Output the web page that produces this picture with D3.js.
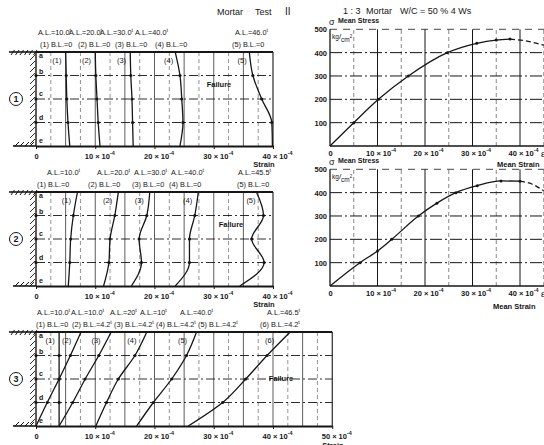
<!DOCTYPE html>
<html>
<head>
<meta charset="utf-8">
<script src="https://cdn.jsdelivr.net/npm/d3@7"></script>
<style>
  body { margin: 0; background: #fff; }
  text { font-family: "Liberation Sans", Arial, sans-serif; fill: #161616; }
</style>
</head>
<body>
<svg id="chart" width="544" height="445"></svg>
<script>
// gauge rows along the specimen height
var rows = ["a", "b", "c", "d", "e"];
var strainTicks40 = [0, 10, 20, 30, 40];
var strainTicks50 = [0, 10, 20, 30, 40, 50];
var stressTicks = [100, 200, 300, 400, 500];

// test 1 : strain (x10^-4) at rows a..e for each load step
var test1Strain = [
  [5.0, 5.1, 5.2, 5.4, 5.7],
  [10.0, 10.1, 10.3, 10.5, 10.8],
  [15.9, 16.0, 16.2, 16.3, 16.4],
  [23.5, 24.3, 24.6, 24.8, 24.3],
  [36.0, 36.6, 38.1, 39.8, 39.9]
];
var test1AL = ["A.L.=10.0^t", "A.L.=20.0^t", "A.L.=30.0^t", "A.L.=40.0^t", "A.L.=46.0^t"];
var test1BL = ["(1) B.L.=0", "(2) B.L.=0", "(3) B.L.=0", "(4) B.L.=0", "(5) B.L.=0"];

// test 2
var test2Strain = [
  [7.0, 6.3, 5.85, 5.7, 5.45],
  [13.9, 13.3, 12.5, 12.3, 11.4],
  [19.2, 18.7, 17.4, 17.8, 16.1],
  [27.4, 26.8, 25.9, 25.9, 23.5],
  [37.2, 38.4, 36.4, 38.5, 34.4]
];
var test2AL = ["A.L.=10.0^t", "A.L.=20.0^t", "A.L.=30.0^t", "A.L.=40.0^t", "A.L.=45.5^t"];
var test2BL = ["(1) B.L.=0", "(2) B.L.=0", "(3) B.L.=0", "(4) B.L.=0", "(5) B.L.=0"];

// test 3 (bending load added)
var test3Strain = [
  [3.9, 3.9, 3.9, 3.9, 3.9],
  [7.6, 5.8, 3.9, 1.9, 0],
  [12.7, 10.6, 8.3, 6.2, 3.9],
  [18.7, 16.7, 13.9, 11.9, 10.1],
  [27.1, 25.4, 22.9, 19.8, 17.0],
  [42.9, 39.0, 35.4, 31.5, 25.7]
];
var test3AL = ["A.L.=10.0^t", "A.L.=10.0^t", "A.L.=20^t", "A.L.=10^t", "A.L.=40.0^t", "A.L.=46.5^t"];
var test3BL = ["(1) B.L.=0", "(2) B.L.=4.2^t", "(3) B.L.=4.2^t", "(4) B.L.=4.2^t", "(5) B.L.=4.2^t", "(6) B.L.=4.2^t"];

// mean stress - mean strain, upper chart
var mean1Strain = [0, 5, 10.2, 16.5, 24.7, 30.9, 35, 37.9];
var mean1Stress = [0, 100, 200, 300, 400, 440, 454, 458];
var mean1StrainAfter = [37.9, 41, 45];
var mean1StressAfter = [458, 451, 432];

// mean stress - mean strain, lower chart
var mean2Strain = [0, 6.3, 10, 13, 18.6, 22.5, 26.5, 31, 36, 40];
var mean2Stress = [0, 100, 150, 200, 300, 355, 400, 430, 450, 449];
var mean2StrainAfter = [40, 42.5, 45];
var mean2StressAfter = [449, 437, 408];

var svg = d3.select("#chart");
var ink = "#161616";

// text with an optional superscript part after "^"
function rich(sel, str, size) {
  var parts = str.split("^");
  sel.text(null).attr("font-size", size);
  sel.append("tspan").text(parts[0]);
  if (parts[1]) {
    sel.append("tspan").attr("dy", -size * 0.45).attr("font-size", size * 0.72).text(parts[1]);
  }
}

function tickText(v) { return v === 0 ? "0" : v + " \u00d7 10^-4"; }

function drawPanel(p) {
  var g = svg.append("g");
  var x = d3.scaleLinear().domain([0, p.max]).range([36, 36 + p.max * 5.925]);
  var y = d3.scalePoint().domain(rows).range([p.top, p.top + 94]);
  var x0 = x(0), x1 = x(p.max), yt = y("a"), yb = y("e");

  // vertical grid
  var minor = d3.range(2.5, p.max, 2.5);
  g.selectAll(".vg").data(minor).enter().append("line")
    .attr("x1", d => x(d)).attr("x2", d => x(d))
    .attr("y1", yt).attr("y2", yb)
    .attr("stroke", d => d % 5 === 0 ? "#333" : "#666")
    .attr("stroke-width", d => d % 5 === 0 ? 0.8 : 0.7)
    .attr("stroke-dasharray", d => d % 5 === 0 ? null : "4,3");

  // horizontal gauge lines b c d
  g.selectAll(".hg").data(["b", "c", "d"]).enter().append("line")
    .attr("x1", x0).attr("x2", x1).attr("y1", d => y(d)).attr("y2", d => y(d))
    .attr("stroke", ink).attr("stroke-width", 0.9).attr("stroke-dasharray", "9,3,2,3");

  // frame
  g.append("line").attr("x1", x0).attr("x2", x1).attr("y1", yt).attr("y2", yt)
    .attr("stroke", ink).attr("stroke-width", 1.8);
  g.append("line").attr("x1", x1).attr("x2", x1).attr("y1", yt).attr("y2", yb)
    .attr("stroke", ink).attr("stroke-width", 1.1);
  g.append("line").attr("x1", x0).attr("x2", x0).attr("y1", yt).attr("y2", yb)
    .attr("stroke", ink).attr("stroke-width", 1.4);

  // bottom axis
  var ax = g.append("g").attr("transform", "translate(0," + yb + ")")
    .call(d3.axisBottom(x).tickValues(p.ticks).tickSize(3).tickSizeOuter(0));
  ax.select(".domain").attr("stroke", ink).attr("stroke-width", 1.8);
  ax.selectAll(".tick line").attr("stroke", ink);
  ax.selectAll(".tick text").attr("fill", ink).attr("font-weight", "bold")
    .attr("font-family", "'Liberation Sans', Arial, sans-serif")
    .attr("dx", d => d === 0 ? 0 : 4).attr("dy", "0.9em")
    .each(function (d) { rich(d3.select(this), tickText(d), 7.5); });
  g.append("text").attr("x", p.strainX).attr("y", yb + p.strainDy).attr("text-anchor", "middle")
    .attr("font-weight", "bold").attr("font-size", 7.5).text("Strain");

  // wall hatching
  var hatch = d3.range(yt + 4, yb, 6);
  g.selectAll(".ht").data(hatch).enter().append("line")
    .attr("x1", 30).attr("x2", 35).attr("y1", d => d + 4).attr("y2", d => d - 1)
    .attr("stroke", ink).attr("stroke-width", 0.9);
  g.append("line").attr("x1", 9).attr("x2", x0).attr("y1", yt).attr("y2", yt)
    .attr("stroke", ink).attr("stroke-width", 1.6);
  g.selectAll(".htop").data(d3.range(11, 34, 4.5)).enter().append("line")
    .attr("x1", d => d).attr("x2", d => d + 3.5).attr("y1", yt + 3).attr("y2", yt - 2)
    .attr("stroke", ink).attr("stroke-width", 1);
  g.append("line").attr("x1", 13).attr("x2", x0).attr("y1", yb).attr("y2", yb)
    .attr("stroke", ink).attr("stroke-width", 1.6);
  g.selectAll(".hbot").data(d3.range(15, 34, 5)).enter().append("line")
    .attr("x1", d => d).attr("x2", d => d + 4).attr("y1", yb).attr("y2", yb - 4)
    .attr("stroke", ink).attr("stroke-width", 1);

  // row letters
  var rowDy = { a: 6, b: -2, c: -3, d: -3, e: -3 };
  g.selectAll(".rl").data(rows).enter().append("text")
    .attr("x", 39).attr("y", d => y(d) + rowDy[d]).attr("font-size", 7)
    .attr("font-weight", "bold").text(d => d);
  g.selectAll(".ad").data(["b", "c", "d"]).enter().append("circle")
    .attr("cx", x0).attr("cy", d => y(d)).attr("r", 1.6).attr("fill", ink);

  // panel number
  g.append("circle").attr("cx", 16).attr("cy", y("c")).attr("r", 6.5)
    .attr("fill", "none").attr("stroke", ink).attr("stroke-width", 1);
  g.append("text").attr("x", 16).attr("y", y("c") + 3.3).attr("text-anchor", "middle")
    .attr("font-size", 9).attr("font-weight", "bold").text(p.num);

  // strain distribution curves
  var line = d3.line().x(d => x(d[0])).y(d => y(d[1])).curve(d3.curveMonotoneY);
  p.curves.forEach(function (c, i) {
    var pts = c.map((v, j) => [v, rows[j]]);
    g.append("path").attr("d", line(pts)).attr("fill", "none")
      .attr("stroke", ink).attr("stroke-width", 1.3);
    g.selectAll(".pd" + i).data(pts.slice(1, 4)).enter().append("circle")
      .attr("cx", d => x(d[0])).attr("cy", d => y(d[1])).attr("r", 1.6).attr("fill", ink);
    g.append("text").attr("x", x((c[0] + c[1]) / 2) - 9).attr("y", yt + 11)
      .attr("text-anchor", "middle").attr("font-size", 7.5).text("(" + (i + 1) + ")");
  });

  // load labels
  p.al.forEach(function (t, i) {
    rich(g.append("text").attr("x", p.alX[i]).attr("y", yt - 17), t, 7.3);
  });
  p.bl.forEach(function (t, i) {
    rich(g.append("text").attr("x", p.blX[i]).attr("y", yt - 5), t, 7.3);
  });

  g.append("text").attr("x", p.failX).attr("y", p.failY).attr("text-anchor", "middle")
    .attr("font-size", 7.5).attr("font-weight", "bold").text("Failure");
}

drawPanel({ top: 52, max: 40, ticks: strainTicks40, curves: test1Strain, num: "1",
  al: test1AL, alX: [38, 69, 100, 135, 235], bl: test1BL, blX: [40, 78, 115, 155, 232],
  failX: 219, failY: 87, strainX: 264, strainDy: 20.5 });
drawPanel({ top: 192, max: 40, ticks: strainTicks40, curves: test2Strain, num: "2",
  al: test2AL, alX: [47, 97, 134, 171, 238], bl: test2BL, blX: [37, 88, 132, 169, 237],
  failX: 231, failY: 227, strainX: 264, strainDy: 20.5 });
drawPanel({ top: 332, max: 50, ticks: strainTicks50, curves: test3Strain, num: "3",
  al: test3AL, alX: [37, 71, 110, 140, 180, 267], bl: test3BL, blX: [36, 72, 114, 156, 198, 260],
  failX: 281, failY: 381, strainX: 333, strainDy: 22 });

// mean stress charts
function drawMean(m) {
  var g = svg.append("g");
  var x = d3.scaleLinear().domain([0, 40]).range([330, 520]);
  var y = d3.scaleLinear().domain([0, 500]).range([m.base, m.base - 116.7]);

  g.selectAll(".vg").data(d3.range(5, 46, 5)).enter().append("line")
    .attr("x1", d => x(d)).attr("x2", d => x(d)).attr("y1", y(0)).attr("y2", y(500))
    .attr("stroke", d => d % 10 === 0 ? ink : "#555")
    .attr("stroke-width", d => d % 10 === 0 ? 1 : 0.7)
    .attr("stroke-dasharray", d => d % 10 === 0 ? null : "4,3");
  g.selectAll(".hg").data(stressTicks).enter().append("line")
    .attr("x1", x(0)).attr("x2", 544).attr("y1", d => y(d)).attr("y2", d => y(d))
    .attr("stroke", ink).attr("stroke-width", d => d === 500 ? 0.8 : 1)
    .attr("stroke-dasharray", d => d === 500 ? "7,6" : "12,3,2,3");

  var ax = g.append("g").attr("transform", "translate(0," + y(0) + ")")
    .call(d3.axisBottom(x).tickValues(strainTicks40).tickSize(0).tickSizeOuter(0));
  ax.select(".domain").remove();
  g.append("line").attr("x1", x(0)).attr("x2", 544).attr("y1", y(0)).attr("y2", y(0))
    .attr("stroke", ink).attr("stroke-width", 1.5);
  ax.selectAll(".tick text").attr("fill", ink).attr("font-weight", "bold")
    .attr("font-family", "'Liberation Sans', Arial, sans-serif")
    .attr("dx", d => d === 0 ? 0 : 3).attr("dy", "0.9em")
    .each(function (d) { rich(d3.select(this), tickText(d), 7.5); });

  var ay = g.append("g").attr("transform", "translate(" + x(0) + ",0)")
    .call(d3.axisLeft(y).tickValues(stressTicks).tickSize(0).tickPadding(3));
  ay.select(".domain").remove();
  g.append("line").attr("x1", x(0)).attr("x2", x(0)).attr("y1", y(0)).attr("y2", y(500))
    .attr("stroke", ink).attr("stroke-width", 1.3);
  ay.selectAll(".tick text").attr("fill", ink).attr("font-weight", "bold")
    .attr("font-size", 7.5).attr("font-family", "'Liberation Sans', Arial, sans-serif");

  g.append("text").attr("x", x(0) - 1).attr("y", y(500) - 4).attr("font-size", 9).text("\u03c3");
  g.append("text").attr("x", x(0) + 8).attr("y", y(500) - 6.5).attr("font-size", 7)
    .attr("font-weight", "bold").text("Mean Stress");
  var kg = g.append("text").attr("x", x(0) + 2).attr("y", y(500) + 10).attr("font-size", 6.5);
  kg.append("tspan").text("kg");
  kg.append("tspan").text("/").attr("font-size", 8);
  kg.append("tspan").text("cm").attr("dy", 2.5);
  kg.append("tspan").text("2").attr("dy", -4).attr("font-size", 4.5);

  g.append("text").attr("x", 541).attr("y", y(0) + 11).attr("font-size", 9).text("\u03b5");
  g.append("text").attr("x", m.labelX).attr("y", m.labelY).attr("font-size", 7.5)
    .attr("font-weight", "bold").text("Mean Strain");

  var line = d3.line().x(d => x(d[0])).y(d => y(d[1])).curve(d3.curveMonotoneX);
  var pts = m.strain.map((s, i) => [s, m.stress[i]]);
  var after = m.strainAfter.map((s, i) => [s, m.stressAfter[i]]);
  g.append("path").attr("d", line(pts)).attr("fill", "none").attr("stroke", ink).attr("stroke-width", 1.3);
  g.append("path").attr("d", line(after)).attr("fill", "none").attr("stroke", ink)
    .attr("stroke-width", 1.3).attr("stroke-dasharray", "5,3");
  g.selectAll(".pt").data(pts.slice(1)).enter().append("circle")
    .attr("cx", d => x(d[0])).attr("cy", d => y(d[1])).attr("r", 1.5).attr("fill", ink);
}

drawMean({ base: 146, strain: mean1Strain, stress: mean1Stress,
  strainAfter: mean1StrainAfter, stressAfter: mean1StressAfter, labelX: 497, labelY: 167 });
drawMean({ base: 286, strain: mean2Strain, stress: mean2Stress,
  strainAfter: mean2StrainAfter, stressAfter: mean2StressAfter, labelX: 493, labelY: 309 });

// titles
svg.append("text").attr("x", 217).attr("y", 15).attr("font-size", 9).text("Mortar");
svg.append("text").attr("x", 255).attr("y", 15).attr("font-size", 9).text("Test");
svg.append("text").attr("x", 285).attr("y", 15).attr("font-size", 10)
  .attr("font-family", "'Liberation Serif', serif").text("II");
svg.append("text").attr("x", 343).attr("y", 14).attr("font-size", 9).text("1 : 3");
svg.append("text").attr("x", 366).attr("y", 14).attr("font-size", 9).text("Mortar");
svg.append("text").attr("x", 400).attr("y", 14).attr("font-size", 9).text("W/C = 50 %  4 Ws");
</script>
</body>
</html>
